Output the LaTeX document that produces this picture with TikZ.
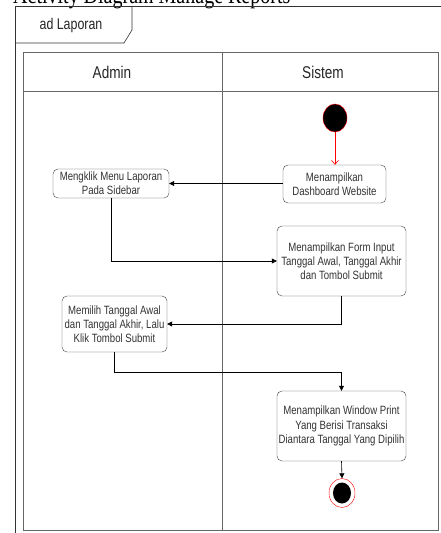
\documentclass[tikz,border=0pt]{standalone}
\usepackage{fontspec}
\setmainfont{Liberation Sans}[FakeStretch=0.8]
\newfontfamily\titlefont{Liberation Serif}[FakeStretch=0.8]
\usetikzlibrary{arrows.meta,shapes.geometric}
\begin{document}
\begin{tikzpicture}[x=1pt,y=-1pt,
  act/.style={draw=black!75, rounded corners=5pt, fill=white, align=center, font=\fontsize{12}{14.2}\selectfont, text=black!80, inner sep=0pt},
  lane/.style={draw=black!60, line width=0.8pt},
  flow/.style={draw=black, line width=0.6pt, -{Triangle[length=5pt,width=5pt]}},
  head/.style={font=\fontsize{17}{18}\selectfont, text=black!85},
]
\useasboundingbox (0,0) rectangle (440,533);
\fill[white] (0,0) rectangle (440,533);
% title (clipped at top, as in the reference)
\node[anchor=base west, inner sep=0pt, font=\titlefont\fontsize{25}{25}\selectfont] (title) at (13,3.5) {Activity Diagram Manage Reports};
% outer frame
\draw[black!80, line width=0.6pt] (15.5,545) -- (15.5,6) -- (450,6);
\draw[black!80, line width=0.6pt] (15.5,43) -- (124,43) -- (132,30) -- (132,6);
\node[font=\fontsize{15.5}{17}\selectfont, text=black!85] (tab) at (71,25) {ad Laporan};
% swimlanes
\draw[lane] (23,52) rectangle (438,530);
\draw[lane] (23,91) -- (438,91);
\draw[lane] (222,52) -- (222,530);
\node[head] (admin) at (112,72) {Admin};
\node[head] (sistem) at (323,72) {Sistem};
% start
\node[ellipse, draw=red, fill=black, minimum width=24pt, minimum height=28pt, inner sep=0pt] (start) at (335,118) {};
% activities
\node[act, minimum width=103pt, minimum height=38pt] (dash) at (334.5,184) {Menampilkan\\Dashboard Website};
\node[act, minimum width=116pt, minimum height=29pt] (menu) at (111,183.5) {Mengklik Menu Laporan\\Pada Sidebar};
\node[act, minimum width=129pt, minimum height=70pt] (form) at (341.5,261) {Menampilkan Form Input\\Tanggal Awal, Tanggal Akhir\\dan Tombol Submit};
\node[act, minimum width=105pt, minimum height=56pt] (pilih) at (114.5,324) {Memilih Tanggal Awal\\dan Tanggal Akhir, Lalu\\Klik Tombol Submit};
\node[act, minimum width=129pt, minimum height=70pt] (print) at (341.5,426) {Menampilkan Window Print\\Yang Berisi Transaksi\\Diantara Tanggal Yang Dipilih};
% end
\node[ellipse, draw=red, fill=white, minimum width=26pt, minimum height=29pt, inner sep=0pt] (endo) at (342,493) {};
\node[ellipse, fill=black, minimum width=18pt, minimum height=21pt, inner sep=0pt] (endi) at (342,493) {};
% flows
\draw[red, line width=0.6pt, -{Straight Barb[length=4pt,width=7pt]}] (start) -- (dash.north -| start);
\draw[flow] (dash.west |- menu) -- (menu.east);
\draw[flow] (menu.south) |- (form.west);
\draw[flow] (form.south) |- (pilih.east);
\draw[flow] (pilih.south) -- ++(0,20) -| (print.north);
\draw[flow] (print.south) -- (endo.north);
\end{tikzpicture}
\end{document}
